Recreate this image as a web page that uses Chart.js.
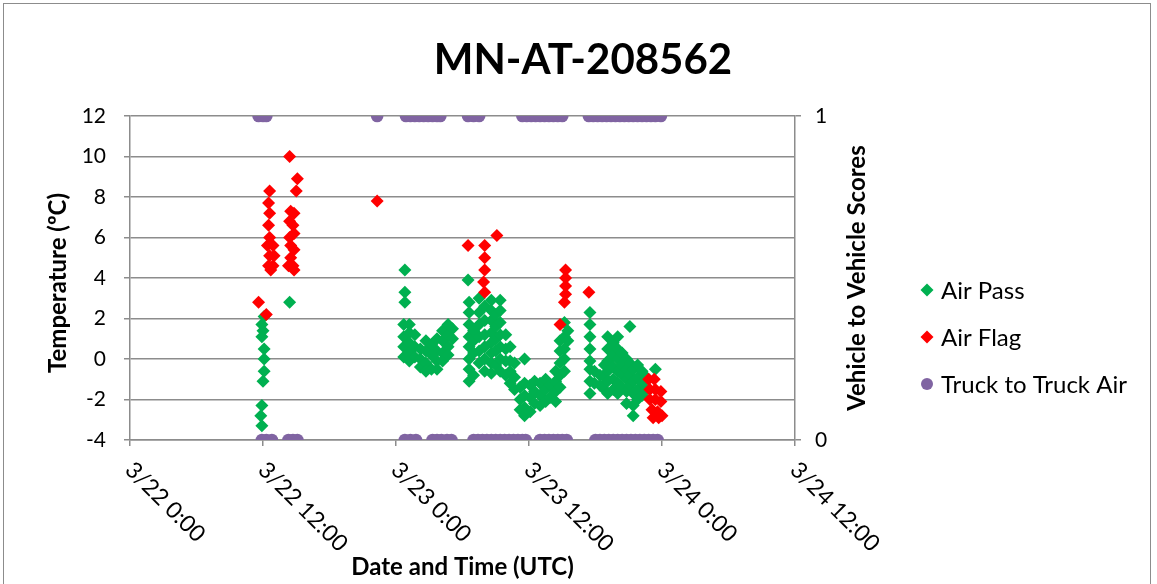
<!DOCTYPE html>
<html>
<head>
<meta charset="utf-8">
<script src="https://cdn.jsdelivr.net/npm/chart.js@4.4.0/dist/chart.umd.min.js"></script>
<style>
  html, body { margin: 0; padding: 0; background: #fff; }
  canvas { display: block; }
</style>
</head>
<body>
<canvas id="chart" width="1157" height="584"></canvas>
<script>
// hours after 3/22 0:00 UTC, temperature in degrees C
var chartTitle = 'MN-AT-208562';
var seriesNames = ['Air Pass', 'Air Flag', 'Truck to Truck Air'];
var xTicks = [0, 12, 24, 36, 48, 60];

var airPass = [
  [12.1,2.1],[11.9,1.7],[12.0,1.4],[11.9,1.1],[12.1,0.5],[12.1,0.0],[12.1,-0.6],[12.0,-1.1],[11.9,-2.3],[11.8,-2.8],[11.9,-3.3],[14.4,2.8],
  [24.8,4.4],[24.8,3.3],[24.8,2.8],
  [24.7,1.7],[24.7,1.1],[24.7,0.6],[24.7,0.1],
  [25.2,1.7],[25.2,1.3],[25.2,0.8],[25.2,0.3],[25.2,-0.1],
  [25.7,1.2],[25.7,0.6],[25.7,0.1],
  [26.2,0.5],[26.2,0.0],[26.2,-0.4],
  [26.7,0.9],[26.7,0.4],[26.7,-0.2],[26.7,-0.6],
  [27.2,0.7],[27.2,0.2],[27.2,-0.5],
  [27.7,1.0],[27.7,0.4],[27.7,-0.1],[27.7,-0.5],
  [28.2,1.4],[28.2,0.9],[28.2,0.3],[28.2,-0.1],
  [28.7,1.7],[28.7,1.2],[28.7,0.6],[28.7,0.2],
  [29.1,1.5],[29.1,1.0],
  [30.5,3.9],
  [30.6,2.8],[30.6,2.3],[30.6,1.7],[30.6,1.1],[30.6,0.6],[30.6,0.0],[30.6,-0.5],[30.6,-1.1],
  [31.0,1.4],[31.0,0.9],[31.0,0.3],[31.0,-0.8],
  [31.5,3.0],[31.5,2.3],[31.5,1.7],[31.5,1.1],[31.5,0.4],[31.5,-0.2],
  [32.0,2.6],[32.0,1.9],[32.0,1.2],[32.0,0.6],[32.0,0.0],[32.0,-0.6],
  [32.6,2.9],[32.6,2.4],[32.6,1.9],[32.6,1.3],[32.6,0.8],[32.6,0.3],[32.6,-0.2],[32.6,-0.7],
  [33.0,2.2],[33.0,1.6],[33.0,1.0],[33.0,0.4],[33.0,-0.3],
  [33.4,2.9],[33.4,2.4],[33.4,1.8],[33.4,1.2],[33.4,0.6],[33.4,0.0],[33.4,-0.6],
  [33.9,1.2],[33.9,0.5],[33.9,-0.1],[33.9,-0.8],
  [34.3,0.6],[34.3,-0.1],[34.3,-0.6],[34.3,-1.2],
  [34.7,-0.2],[34.7,-0.9],[34.7,-1.5],
  [35.2,-1.4],[35.2,-2.0],[35.2,-2.5],
  [35.6,0.0],[35.6,-1.2],[35.6,-1.8],[35.6,-2.4],[35.6,-2.8],
  [36.1,-1.3],[36.1,-1.9],[36.1,-2.6],
  [36.5,-1.1],[36.5,-1.6],[36.5,-2.2],
  [37.0,-1.2],[37.0,-1.8],[37.0,-2.3],
  [37.5,-1.0],[37.5,-1.5],[37.5,-2.1],
  [37.9,-1.3],[37.9,-1.9],
  [38.4,-0.6],[38.4,-1.1],[38.4,-1.6],[38.4,-2.1],
  [38.8,0.9],[38.8,0.4],[38.8,-0.2],[38.8,-0.8],[38.8,-1.4],
  [39.2,1.8],[39.2,1.1],[39.2,0.5],[39.2,0.0],[39.2,-0.6],
  [39.5,1.4],[39.5,0.9],
  [41.5,2.3],[41.5,1.7],[41.5,1.1],[41.5,0.5],[41.5,-0.1],[41.5,-0.5],[41.5,-1.1],[41.5,-1.7],
  [41.9,-0.6],[41.9,-1.2],
  [42.4,-0.8],[42.4,-1.3],
  [42.8,-0.3],[42.8,-0.9],[42.8,-1.5],
  [43.1,1.1],[43.1,0.5],[43.1,-0.1],[43.1,-0.6],[43.1,-1.1],[43.1,-1.7],
  [43.6,0.8],[43.6,0.2],[43.6,-0.4],[43.6,-1.0],[43.6,-1.5],
  [44.0,1.1],[44.0,0.5],[44.0,0.0],[44.0,-0.6],[44.0,-1.2],[44.0,-1.7],
  [44.4,0.3],[44.4,-0.3],[44.4,-0.8],[44.4,-1.4],
  [44.8,0.0],[44.8,-0.5],[44.8,-1.0],[44.8,-1.6],[44.8,-2.2],
  [45.1,1.6],[45.1,-0.2],[45.1,-0.8],[45.1,-1.3],
  [45.4,-0.5],[45.4,-1.1],[45.4,-1.7],[45.4,-2.3],[45.4,-2.8],
  [45.8,-0.3],[45.8,-0.9],[45.8,-1.5],[45.8,-2.0],
  [46.2,-0.6],[46.2,-1.2],[46.2,-1.8],
  [46.6,-0.9],[46.6,-1.5],
  [47.4,-0.5]
];

var airFlag = [
  [11.6,2.8],[12.3,2.2],
  [12.6,8.3],[12.5,7.7],[12.6,7.2],[12.5,6.6],[12.6,6.0],[12.4,5.6],[12.6,5.1],[12.5,4.6],[12.9,4.6],[13.0,5.1],[12.7,4.4],[12.9,5.6],
  [14.4,10.0],[15.1,8.9],[15.0,8.3],[14.5,7.3],[14.8,7.2],[14.4,6.8],[14.7,6.6],[14.4,6.0],[14.8,6.2],[14.5,5.6],[14.8,5.4],[14.5,5.0],[14.7,4.6],[14.8,4.4],[14.3,4.6],
  [22.3,7.8],
  [30.5,5.6],[32.0,5.6],[32.0,5.0],[32.0,4.4],[31.9,3.8],[32.0,3.3],[33.1,6.1],
  [38.8,1.7],[39.3,4.4],[39.3,4.0],[39.3,3.6],[39.3,3.2],[39.2,2.8],
  [41.4,3.3],
  [46.8,-1.0],[47.3,-1.0],[46.9,-1.5],[47.4,-1.5],[47.9,-1.6],[46.9,-2.0],[47.4,-2.0],[47.9,-2.1],
  [47.1,-2.5],[47.6,-2.6],[48.0,-2.8],[47.2,-2.9],[47.7,-2.9]
];

// vehicle to vehicle score (0 or 1)
var truckAir = [
  [11.6,1],[12.0,1],[12.3,1],[22.3,1],
  [24.9,1],[25.3,1],[25.7,1],[26.1,1],[26.5,1],[26.9,1],[27.3,1],[27.7,1],[28.0,1],
  [30.5,1],[31.0,1],[31.5,1],
  [35.4,1],[35.8,1],[36.2,1],[36.6,1],[37.0,1],[37.4,1],[37.8,1],[38.2,1],[38.6,1],[39.0,1],
  [41.4,1],[41.8,1],[42.2,1],[42.6,1],[43.0,1],[43.4,1],[43.8,1],[44.2,1],[44.6,1],[45.0,1],
  [45.4,1],[45.8,1],[46.2,1],[46.6,1],[47.0,1],[47.4,1],[47.9,1],
  [11.9,0],[12.3,0],[12.8,0],[14.3,0],[14.7,0],[15.1,0],
  [24.8,0],[25.3,0],[25.8,0],
  [27.3,0],[27.7,0],[28.1,0],[28.6,0],[29.0,0],
  [31.0,0],[31.4,0],[31.8,0],[32.2,0],[32.6,0],[33.0,0],[33.4,0],[33.8,0],[34.2,0],[34.6,0],[35.0,0],[35.4,0],[35.7,0],
  [37.0,0],[37.4,0],[37.8,0],[38.2,0],[38.6,0],[39.0,0],[39.4,0],
  [42.0,0],[42.4,0],[42.8,0],[43.2,0],[43.6,0],[44.0,0],[44.4,0],[44.8,0],[45.2,0],[45.6,0],
  [46.0,0],[46.4,0],[46.8,0],[47.2,0],[47.6,0]
];

var colors = ['#00B050', '#FF0000', '#8064A2'];
var gridColor = '#8c8c8c';
var fontName = 'Lato, "Open Sans", sans-serif';

function toPoints(list) {
  return list.map(function(p) { return { x: p[0], y: p[1] }; });
}

function timeLabel(h) {
  var day = 22 + Math.floor(h / 24);
  return '3/' + day + ' ' + (h % 24) + ':00';
}

var textPlugin = {
  id: 'excelText',
  afterDraw: function(chart) {
    var ctx = chart.ctx;
    var area = chart.chartArea;
    var xs = chart.scales.x;
    ctx.save();

    // outer frame
    ctx.strokeStyle = '#8c8c8c';
    ctx.lineWidth = 1;
    ctx.strokeRect(3.5, 3.5, 1147, 620);

    ctx.fillStyle = '#000';
    ctx.font = 'bold 42px ' + fontName;
    ctx.textAlign = 'center';
    ctx.textBaseline = 'middle';
    ctx.fillText(chartTitle, 583, 60);

    // rotated date labels
    ctx.font = '23px ' + fontName;
    ctx.textAlign = 'left';
    ctx.textBaseline = 'middle';
    xTicks.forEach(function(v) {
      var px = xs.getPixelForValue(v);
      ctx.save();
      ctx.translate(px - 1, area.bottom + 26);
      ctx.rotate(Math.PI / 4);
      ctx.fillText(timeLabel(v), 0, 0);
      ctx.restore();
    });

    ctx.font = 'bold 24px ' + fontName;
    ctx.textAlign = 'center';
    ctx.fillText('Date and Time (UTC)', (area.left + area.right) / 2, 567);

    ctx.save();
    ctx.translate(58, (area.top + area.bottom) / 2 + 5);
    ctx.rotate(-Math.PI / 2);
    ctx.fillText('Temperature (\u00baC)', 0, 0);
    ctx.restore();

    ctx.save();
    ctx.translate(857, (area.top + area.bottom) / 2);
    ctx.rotate(-Math.PI / 2);
    ctx.fillText('Vehicle to Vehicle Scores', 0, 0);
    ctx.restore();

    // legend
    var ly = [290, 337, 384];
    ctx.font = '24px ' + fontName;
    ctx.textAlign = 'left';
    seriesNames.forEach(function(name, i) {
      ctx.fillStyle = colors[i];
      ctx.beginPath();
      if (i < 2) {
        ctx.moveTo(927, ly[i] - 6.5);
        ctx.lineTo(933.5, ly[i]);
        ctx.lineTo(927, ly[i] + 6.5);
        ctx.lineTo(920.5, ly[i]);
        ctx.closePath();
      } else {
        ctx.arc(927, ly[i], 6, 0, Math.PI * 2);
      }
      ctx.fill();
      ctx.fillStyle = '#000';
      ctx.fillText(name, 941, ly[i] + 1);
    });

    ctx.restore();
  }
};

var ctx = document.getElementById('chart').getContext('2d');
var chart = new Chart(ctx, {
  type: 'scatter',
  data: {
    datasets: [{
      label: seriesNames[0],
      data: toPoints(airPass),
      backgroundColor: colors[0],
      borderWidth: 0,
      pointStyle: 'rectRot',
      pointRadius: 6.5,
      yAxisID: 'y',
      order: 2
    }, {
      label: seriesNames[1],
      data: toPoints(airFlag),
      backgroundColor: colors[1],
      borderWidth: 0,
      pointStyle: 'rectRot',
      pointRadius: 6.5,
      yAxisID: 'y',
      order: 1
    }, {
      label: seriesNames[2],
      data: toPoints(truckAir),
      backgroundColor: colors[2],
      borderWidth: 0,
      pointStyle: 'circle',
      pointRadius: 6.3,
      yAxisID: 'y2',
      order: 0
    }]
  },
  options: {
    responsive: false,
    animation: false,
    layout: { padding: { top: 116, left: 0, right: 0, bottom: 0 } },
    plugins: {
      legend: { display: false },
      tooltip: { enabled: false }
    },
    scales: {
      x: {
        type: 'linear',
        min: 0,
        max: 60,
        afterBuildTicks: function(scale) {
          scale.ticks = xTicks.map(function(v) { return { value: v }; });
        },
        ticks: { display: false },
        grid: { drawOnChartArea: false, color: gridColor, lineWidth: 1.5, tickLength: 6 },
        border: { display: true, color: gridColor, width: 1.5 },
        afterFit: function(scale) { scale.height = 144; }
      },
      y: {
        position: 'left',
        min: -4,
        max: 12,
        ticks: { stepSize: 2, color: '#000', padding: 18, font: { family: fontName, size: 21 } },
        grid: { color: gridColor, lineWidth: 1.5, tickLength: 6 },
        border: { display: true, color: gridColor, width: 1.5 },
        afterFit: function(scale) { scale.width = 130; }
      },
      y2: {
        position: 'right',
        min: 0,
        max: 1,
        ticks: { stepSize: 1, color: '#000', padding: 14, font: { family: fontName, size: 21 } },
        grid: { drawOnChartArea: false, color: gridColor, lineWidth: 1.5, tickLength: 6 },
        border: { display: true, color: gridColor, width: 1.5 },
        afterFit: function(scale) { scale.width = 362; }
      }
    }
  },
  plugins: [textPlugin]
});
</script>
</body>
</html>
